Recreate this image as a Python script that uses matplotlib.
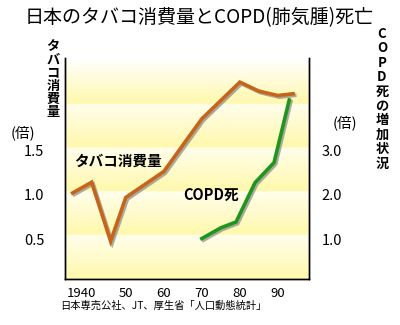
import matplotlib
matplotlib.use('Agg')
import matplotlib.pyplot as plt
import matplotlib.patheffects as pe
import matplotlib.transforms as mtransforms
import numpy as np

plt.rcParams['font.family'] = ['Noto Sans CJK JP', 'DejaVu Sans']

# タバコ消費量 (倍, 左軸)
tob_year = [1936, 1941, 1946, 1950, 1960, 1970, 1980, 1985, 1990, 1994]
tob_val = [1.02, 1.14, 0.48, 0.97, 1.26, 1.85, 2.26, 2.16, 2.11, 2.13]

# COPD死の増加状況 (倍, 右軸)
copd_year = [1970, 1975, 1979, 1984, 1989, 1993]
copd_val = [1.02, 1.26, 1.39, 2.27, 2.72, 4.12]

xticks = [1940, 1950, 1960, 1970, 1980, 1990]
xticklabels = ['1940', '50', '60', '70', '80', '90']
lticks = [0.5, 1.0, 1.5]
rticks = [1.0, 2.0, 3.0]

W, H = 400, 325
fig = plt.figure(figsize=(W / 100, H / 100), dpi=100, facecolor='white')
ax = fig.add_axes([0.1625, 0.1415, 0.61, 0.68])
ax.set_xlim(1934, 1998.2)
ax.set_ylim(0.057, 2.53)

# 背景: 帯ごとに上が淡く下が濃い黄色のグラデーション
light = np.array([255, 254, 236]) / 255
deep = np.array([255, 248, 172]) / 255
edges = [0.057, 0.55, 1.04, 1.53, 2.02, 2.53]
n = 400
yy = np.linspace(2.53, 0.057, n)
img = np.zeros((n, 1, 3))
for i in range(n):
    v = yy[i]
    for lo, hi in zip(edges[:-1], edges[1:]):
        if lo <= v <= hi:
            t = (hi - v) / (hi - lo)
            break
    if v > 2.02:
        c = np.array([1, 1, 1]) * (1 - t) + deep * t
    else:
        c = light * (1 - t) + deep * t
    img[i, 0] = c
ax.imshow(img, aspect='auto', extent=[1934, 1998.2, 0.057, 2.53],
          interpolation='bilinear', zorder=0)

shadow = [pe.SimpleLineShadow(offset=(1.2, -1.2), shadow_color='#888888', alpha=0.7),
          pe.Normal()]
ax.plot(tob_year, tob_val, color='#C6651A', lw=2.6, solid_joinstyle='miter',
        path_effects=shadow, zorder=3)

ax2 = ax.twinx()
ax2.set_ylim(0.114, 5.06)
ax2.plot(copd_year, copd_val, color='#1E961E', lw=2.6, solid_joinstyle='miter',
         path_effects=shadow, zorder=3)

for a in (ax, ax2):
    a.spines['top'].set_visible(False)
    for s in ('left', 'right', 'bottom'):
        a.spines[s].set_linewidth(1.0)
        a.spines[s].set_color('black')

ax.set_xticks(xticks)
ax.set_xticklabels(xticklabels)
ax.set_yticks(lticks)
ax.set_yticklabels(['0.5', '1.0', '1.5'])
ax.tick_params(axis='x', length=0, pad=6, labelsize=9.5)
ax.tick_params(axis='y', length=0, pad=15, labelsize=10.5)
ax2.set_yticks(rticks)
ax2.set_yticklabels(['1.0', '2.0', '3.0'])
ax2.tick_params(axis='y', length=0, pad=9, labelsize=10.5)
lbl = ax.get_xticklabels()[0]
lbl.set_transform(lbl.get_transform() +
                  mtransforms.ScaledTranslation(-6 / 100, 0, fig.dpi_scale_trans))


def vtext(s, x, y0, step, **kw):
    # 縦書き: 1文字ずつ等間隔に置く
    for k, ch in enumerate(s):
        fig.text(x / W, 1 - (y0 + k * step) / H, ch, ha='center', va='center', **kw)


fig.text(25 / W, 1 - 18 / H, '日本のタバコ消費量とCOPD(肺気腫)死亡', ha='left',
         va='center', fontsize=13.7)
vtext('タバコ消費量', 53, 46, 13.2, fontsize=9.5, fontweight='bold')
vtext('COPD死の増加状況', 382, 34, 14.4, fontsize=9.5, fontweight='bold')
fig.text(23 / W, 1 - 133 / H, '(倍)', ha='center', va='center', fontsize=10.5)
fig.text(345 / W, 1 - 123 / H, '(倍)', ha='center', va='center', fontsize=10.5)
fig.text(60 / W, 1 - 306 / H, '日本専売公社、JT、厚生省「人口動態統計」',
         ha='left', va='center', fontsize=7.4)

ax.text(1948, 1.38, 'タバコ消費量', ha='center', va='center', fontsize=10.5,
        fontweight='bold', zorder=4)
ax2.text(1972.5, 2.0, 'COPD死', ha='center', va='center', fontsize=10.5,
         fontweight='bold', zorder=4)

fig.savefig('out.png', dpi=100, facecolor='white')
